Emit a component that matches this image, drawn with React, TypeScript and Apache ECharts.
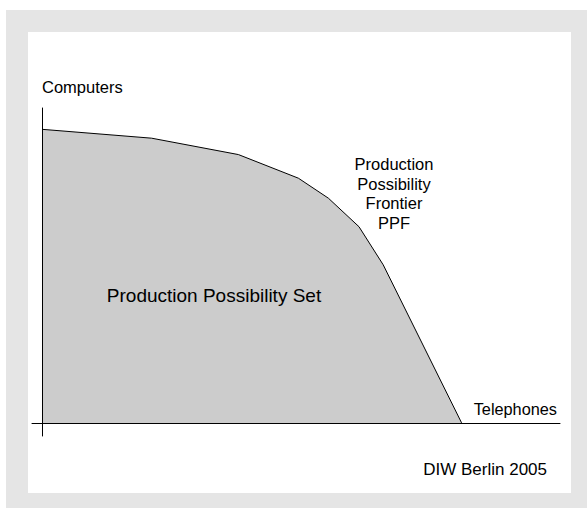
import React, { useEffect, useRef } from "react";
import * as echarts from "echarts";

// PPF curve: telephones (x) vs computers (y)
const telephones = [0, 27.4, 49.1, 64.1, 71.6, 79.25, 85.3, 104.9];
const computers = [89.5, 86.8, 81.8, 74.6, 68.5, 59.8, 48.2, 0];

const xRange = [-2.5, 129.5];
const yRange = [-4, 96];

const labels = {
  yName: "Computers",
  xName: "Telephones",
  frontier: "Production\nPossibility\nFrontier\nPPF",
  set: "Production Possibility Set",
  source: "DIW Berlin 2005",
};

const FONT = "Liberation Sans, Arial, Helvetica, sans-serif";

export default function App() {
  const ref = useRef<HTMLDivElement>(null);
  useEffect(() => {
    if (!ref.current) return;
    const chart = echarts.init(ref.current, undefined, { renderer: "svg" });
    const data = telephones.map((x, i) => [x, computers[i]]);
    chart.setOption({
      animation: false,
      backgroundColor: "#ffffff",
      grid: { left: 32, right: 27, top: 108, bottom: 72 },
      xAxis: {
        type: "value",
        min: xRange[0],
        max: xRange[1],
        z: 10,
        axisLine: { show: true, onZero: true, lineStyle: { color: "#000", width: 1 } },
        axisTick: { show: false },
        axisLabel: { show: false },
        splitLine: { show: false },
      },
      yAxis: {
        type: "value",
        min: yRange[0],
        max: yRange[1],
        z: 10,
        axisLine: { show: true, onZero: true, lineStyle: { color: "#000", width: 1 } },
        axisTick: { show: false },
        axisLabel: { show: false },
        splitLine: { show: false },
      },
      graphic: [
        {
          type: "rect",
          z: -10,
          silent: true,
          shape: { x: 6, y: 10, width: 581, height: 498 },
          style: { fill: "#e5e5e5" },
        },
        {
          type: "rect",
          z: -9,
          silent: true,
          shape: { x: 28, y: 32, width: 543, height: 461 },
          style: { fill: "#ffffff" },
        },
        {
          type: "text",
          z: 20,
          x: 42,
          y: 87,
          style: {
            text: labels.yName,
            font: `16.5px ${FONT}`,
            fill: "#000",
            textAlign: "left",
            textVerticalAlign: "middle",
          },
        },
        {
          type: "text",
          z: 20,
          x: 557,
          y: 409,
          style: {
            text: labels.xName,
            font: `16.3px ${FONT}`,
            fill: "#000",
            textAlign: "right",
            textVerticalAlign: "middle",
          },
        },
        {
          type: "text",
          z: 20,
          x: 394,
          y: 193.5,
          style: {
            text: labels.frontier,
            font: `16.5px ${FONT}`,
            lineHeight: 19.6,
            fill: "#000",
            textAlign: "center",
            textVerticalAlign: "middle",
          },
        },
        {
          type: "text",
          z: 20,
          x: 214,
          y: 295,
          style: {
            text: labels.set,
            font: `19px ${FONT}`,
            fill: "#000",
            textAlign: "center",
            textVerticalAlign: "middle",
          },
        },
        {
          type: "text",
          z: 20,
          x: 547,
          y: 469,
          style: {
            text: labels.source,
            font: `17px ${FONT}`,
            fill: "#000",
            textAlign: "right",
            textVerticalAlign: "middle",
          },
        },
      ],
      series: [
        {
          type: "line",
          data,
          showSymbol: false,
          symbol: "none",
          lineStyle: { color: "#000", width: 1 },
          areaStyle: { color: "#cccccc", opacity: 1, origin: "auto" },
          z: 2,
        },
      ],
    });
    return () => chart.dispose();
  }, []);
  return (
    <div
      ref={ref}
      style={{ position: "fixed", left: 0, top: 0, width: 587, height: 508 }}
    />
  );
}
